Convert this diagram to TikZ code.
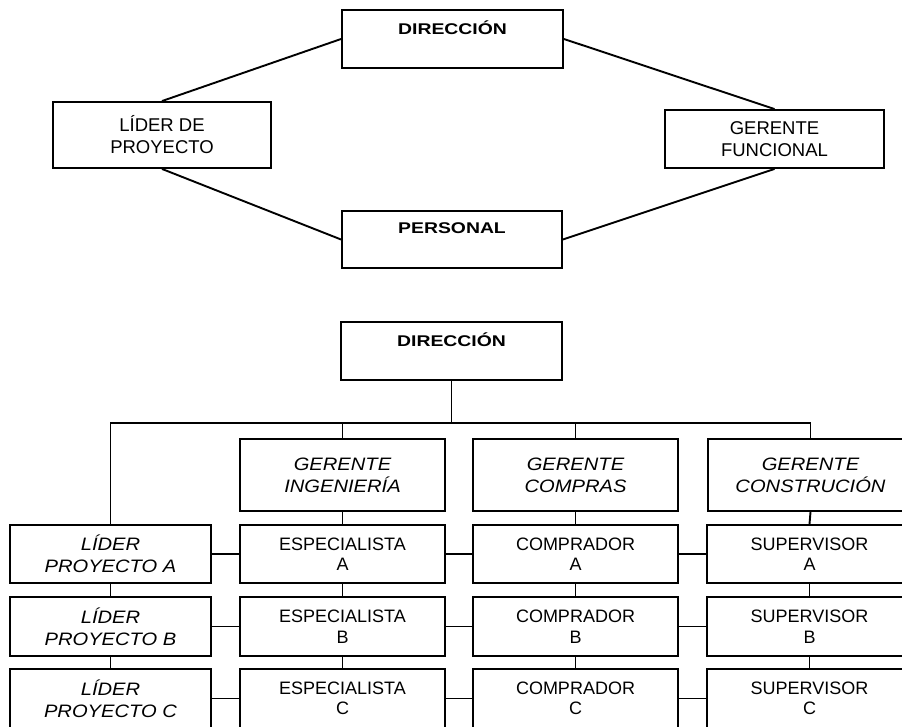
\documentclass[tikz,border=0pt]{standalone}
\usepackage{fontspec}
\setmainfont{Liberation Sans}
\newfontfamily\boldwide[FakeStretch=1.25]{Liberation Sans}
\newfontfamily\itwide[FakeStretch=1.12]{Liberation Sans}
\begin{document}
\begin{tikzpicture}[x=1pt,y=-1pt,
  box/.style={draw, line width=1.9pt, rectangle, inner sep=0pt, align=center,
    font=\fontsize{18}{20.5}\selectfont},
  topbox/.style={box, font=\fontsize{18.5}{22}\selectfont},
  boldbox/.style={box, font=\boldwide\bfseries\fontsize{15.5}{18}\selectfont},
  itbox/.style={box, font=\itwide\itshape\fontsize{18}{22}\selectfont},
  conn/.style={line width=1.9pt}]
\useasboundingbox (0,0) rectangle (902,727);
% top diagram
\node[boldbox, minimum width=221pt, minimum height=58pt] (d1) at (452.5,39) {DIRECCIÓN\\\strut};
\node[topbox, minimum width=218pt, minimum height=66pt] (l1) at (162,135) {LÍDER DE\\PROYECTO};
\node[topbox, minimum width=219pt, minimum height=58pt] (g1) at (774.5,139) {GERENTE\\FUNCIONAL};
\node[boldbox, minimum width=220pt, minimum height=57pt] (p1) at (452,239.5) {PERSONAL\\\strut};
\draw[conn] (d1.west) -- (l1.north);
\draw[conn] (d1.east) -- (g1.north);
\draw[conn] (l1.south) -- (p1.west);
\draw[conn] (p1.east) -- (g1.south);
% bottom diagram
\node[boldbox, minimum width=221pt, minimum height=58pt] (d2) at (451.5,351) {DIRECCIÓN\\\strut};
\node[itbox, minimum width=205pt, minimum height=72pt] (gi) at (342.5,475) {GERENTE\\INGENIERÍA};
\node[itbox, minimum width=205pt, minimum height=72pt] (gc) at (575.5,475) {GERENTE\\COMPRAS};
\node[itbox, minimum width=205pt, minimum height=72pt] (gk) at (810.5,475) {GERENTE\\CONSTRUCIÓN};
% rows
\foreach \r/\y/\h in {A/554/58, B/626.5/59, C/698.5/59}{
  \node[itbox, minimum width=201pt, minimum height=\h pt] (l\r) at (110.5,\y) {LÍDER\\PROYECTO \r};
  \node[box, minimum width=205pt, minimum height=\h pt] (e\r) at (342.5,\y) {ESPECIALISTA\\\r};
  \node[box, minimum width=205pt, minimum height=\h pt] (c\r) at (575.5,\y) {COMPRADOR\\\r};
  \node[box, minimum width=205pt, minimum height=\h pt] (s\r) at (809.5,\y) {SUPERVISOR\\\r};
  \draw[conn] (l\r.east) -- (e\r.west);
  \draw[conn] (e\r.east) -- (c\r.west);
  \draw[conn] (c\r.east) -- (s\r.west);
}
\coordinate (bl) at (110.5,423);
\coordinate (br) at (810.5,423);
\draw[conn] (lA.north) -- (bl) -- (br) -- (gk.north);
\draw[conn] (d2.south) -- (d2.south |- bl);
\draw[conn] (gi.north) -- (gi.north |- bl);
\draw[conn] (gc.north) -- (gc.north |- bl);
\draw[conn] (gi.south) -- (eA.north);
\draw[conn] (gc.south) -- (cA.north);
\draw[conn] (gk.south) -- (sA.north);
\draw[conn] (eA.south) -- (eB.north);
\draw[conn] (eB.south) -- (eC.north);
\draw[conn] (cA.south) -- (cB.north);
\draw[conn] (cB.south) -- (cC.north);
\draw[conn] (sA.south) -- (sB.north);
\draw[conn] (sB.south) -- (sC.north);
\draw[conn] (lA.south) -- (lB.north);
\draw[conn] (lB.south) -- (lC.north);
\end{tikzpicture}
\end{document}
